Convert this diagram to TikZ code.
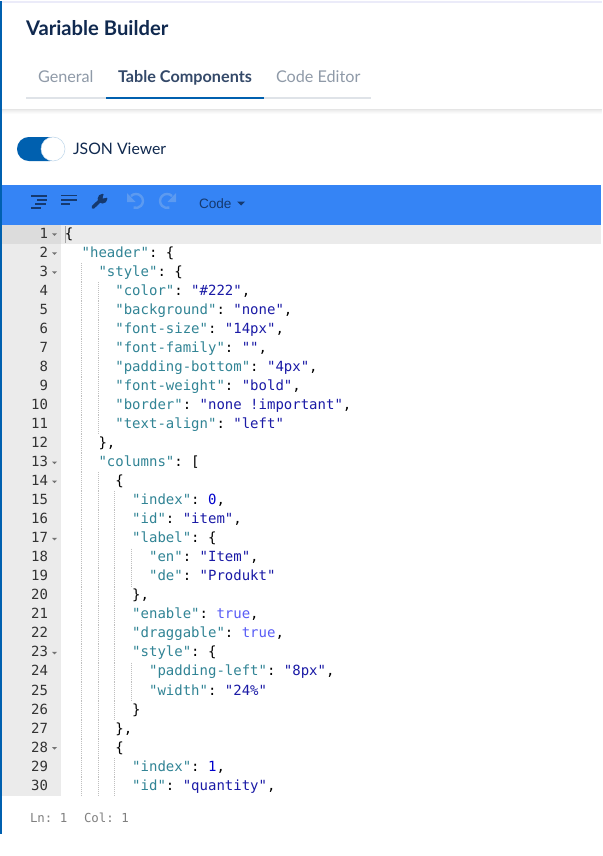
\documentclass[tikz,border=0pt]{standalone}
\usepackage{fontspec}
\setmainfont{Lato}
\newfontfamily\codefont{DejaVu Sans Mono}
\newfontfamily\menufont{Liberation Sans}
\frenchspacing
\definecolor{barblue}{HTML}{3584F5}
\definecolor{sideblue}{HTML}{0060AF}
\definecolor{navy}{HTML}{10294F}
\definecolor{tabgrey}{HTML}{8F9AA8}
\definecolor{tabline}{HTML}{DFE3E8}
\definecolor{gutter}{HTML}{EBEBEB}
\definecolor{gutteract}{HTML}{DCDCDC}
\definecolor{keyc}{HTML}{318495}
\definecolor{strc}{HTML}{1A1AA6}
\definecolor{boolc}{HTML}{585CF6}
\definecolor{numc}{HTML}{0000CD}
\definecolor{icon}{HTML}{15396F}
\definecolor{iconoff}{HTML}{5C9AF0}
\newcommand{\jk}[1]{\textcolor{keyc}{#1}}
\newcommand{\js}[1]{\textcolor{strc}{#1}}
\newcommand{\jb}[1]{\textcolor{boolc}{#1}}
\newcommand{\jn}[1]{\textcolor{numc}{#1}}
\tikzset{
  x=1pt,y=-1pt,
  lbl/.style={inner sep=0pt,outer sep=0pt,anchor=base west},
  lnum/.style={inner sep=0pt,outer sep=0pt,anchor=base east,font=\codefont\fontsize{14}{16}\selectfont,text=black!80},
  codetxt/.style={lbl,font=\codefont\fontsize{14}{16}\selectfont,text=black},
  guide/.style={draw=black!25,line width=0.7pt,dash pattern=on 1pt off 1pt},
  tabtxt/.style={lbl,font=\fontsize{16.2}{18}\selectfont,text=tabgrey},
  iconbar/.style={draw=icon,line width=1.7pt},
  hist/.style={draw=iconoff,line width=2.4pt},
  foldmark/.style={fill=black!55,draw=none},
}
% #1 line, #2 indent in columns, #3 fold mark (0/1), #4 text
\newcommand{\cl}[4]{%
  \pgfmathsetmacro{\by}{238.3+19.03*(#1-1)}%
  \pgfmathsetmacro{\ty}{225+19.03*(#1-1)}%
  \node[lnum] (ln#1) at (48,\by) {#1};%
  \ifnum#3=1 \fill[foldmark] (52,\by-5) -- (57,\by-5) -- (54.5,\by-2.5) -- cycle;\fi
  \ifnum#2>2
    \foreach \g in {2,4,...,#2}{%
      \ifnum\g<#2 \pgfmathsetmacro{\gx}{65+8.3*\g}%
        \draw[guide] (\gx,\ty) -- (\gx,\ty+19.03);\fi}%
  \fi
  \pgfmathsetmacro{\cx}{64.8+8.43*#2}%
  \node[codetxt] (code#1) at (\cx,\by) {#4};%
}
\begin{document}
\begin{tikzpicture}
\useasboundingbox (0,0) rectangle (602,856);
\fill[white] (0,0) rectangle (602,856);
% frame
\fill[black!30!blue!8!white] (0,1.5) rectangle (602,3);
\fill[sideblue] (0,1.5) rectangle (2,834);
% header shadow
\foreach \i/\o in {0/0.10,1/0.07,2/0.05,3/0.03,4/0.015}{
  \fill[black,opacity=\o] (2,109+\i) rectangle (602,110+\i);}
% title
\node[lbl,font=\bfseries\fontsize{20.2}{24}\selectfont,text=navy] (title) at (26,35.5) {Variable Builder};
% tabs
\fill[tabline] (26,97) rectangle (371,99);
\fill[sideblue] (106,97) rectangle (264,99);
\node[tabtxt] (tabg) at (38,82.6) {General};
\node[tabtxt,font=\bfseries\fontsize{16.2}{18}\selectfont,text=navy!85!white] (tabt) at (118,82.6) {Table Components};
\node[tabtxt] (tabc) at (276,82.6) {Code Editor};
% toggle
\fill[sideblue,rounded corners=11.9pt] (17,137) rectangle (62,161);
\draw[draw=sideblue!25!white,fill=white,line width=0.5pt] (53,149) circle[radius=12];
\node[lbl,font=\fontsize{15.8}{18}\selectfont,text=navy] (json) at (73,154) {JSON Viewer};
% toolbar
\fill[barblue] (2,185) rectangle (601,225);
\draw[iconbar] (31,195.7) -- (47,195.7);
\draw[iconbar] (37,199.7) -- (47,199.7);
\draw[iconbar] (35,203.7) -- (46,203.7);
\draw[iconbar] (31,207.7) -- (41,207.7);
\draw[iconbar] (61,195.5) -- (77,195.5);
\draw[iconbar] (61,199.7) -- (77,199.7);
\draw[iconbar] (61,204) -- (70,204);
% wrench
\draw[icon,line width=3.4pt,line cap=round] (93,207.3) -- (101,199.5);
\fill[icon] (102.5,198.7) circle[radius=4.9];
\fill[barblue] (102.7,198.5) -- (104,192.5) -- (109,192.5) -- (109,197.2) -- cycle;
% undo / redo
\draw[hist] (131,196) arc[start angle=-135,end angle=110,radius=7];
\fill[iconoff] (127,193) -- (127,202) -- (135.5,202) -- cycle;
\draw[hist] (172,196) arc[start angle=-45,end angle=-290,radius=7];
\fill[iconoff] (176,193) -- (176,202) -- (167.5,202) -- cycle;
\node[lbl,font=\menufont\fontsize{13.6}{16}\selectfont,text=icon] (code) at (199,208) {Code};
\fill[icon] (237,201.5) -- (245,201.5) -- (241,205.5) -- cycle;
% editor
\fill[gutter] (2,225) rectangle (61,796);
\fill[gutteract] (2,225) rectangle (61,244);
\fill[gutter] (61,225) rectangle (601,244);
\fill[black!35] (65,226) rectangle (66.2,243);
\cl{1}{0}{1}{\{}
\cl{2}{2}{1}{\jk{"header"}: \{}
\cl{3}{4}{1}{\jk{"style"}: \{}
\cl{4}{6}{0}{\jk{"color"}: \js{"\#222"},}
\cl{5}{6}{0}{\jk{"background"}: \js{"none"},}
\cl{6}{6}{0}{\jk{"font-size"}: \js{"14px"},}
\cl{7}{6}{0}{\jk{"font-family"}: \js{""},}
\cl{8}{6}{0}{\jk{"padding-bottom"}: \js{"4px"},}
\cl{9}{6}{0}{\jk{"font-weight"}: \js{"bold"},}
\cl{10}{6}{0}{\jk{"border"}: \js{"none !important"},}
\cl{11}{6}{0}{\jk{"text-align"}: \js{"left"}}
\cl{12}{4}{0}{\},}
\cl{13}{4}{1}{\jk{"columns"}: [}
\cl{14}{6}{1}{\{}
\cl{15}{8}{0}{\jk{"index"}: \jn{0},}
\cl{16}{8}{0}{\jk{"id"}: \js{"item"},}
\cl{17}{8}{1}{\jk{"label"}: \{}
\cl{18}{10}{0}{\jk{"en"}: \js{"Item"},}
\cl{19}{10}{0}{\jk{"de"}: \js{"Produkt"}}
\cl{20}{8}{0}{\},}
\cl{21}{8}{0}{\jk{"enable"}: \jb{true},}
\cl{22}{8}{0}{\jk{"draggable"}: \jb{true},}
\cl{23}{8}{1}{\jk{"style"}: \{}
\cl{24}{10}{0}{\jk{"padding-left"}: \js{"8px"},}
\cl{25}{10}{0}{\jk{"width"}: \js{"24\%"}}
\cl{26}{8}{0}{\}}
\cl{27}{6}{0}{\},}
\cl{28}{6}{1}{\{}
\cl{29}{8}{0}{\jk{"index"}: \jn{1},}
\cl{30}{8}{0}{\jk{"id"}: \js{"quantity"},}
% status bar
\node[lbl,font=\codefont\fontsize{12.4}{15}\selectfont,text=black!50] (lnc) at (30,822) {Ln: 1};
\node[lbl,font=\codefont\fontsize{12.4}{15}\selectfont,text=black!50] (colc) at (84,822) {Col: 1};
\end{tikzpicture}
\end{document}
